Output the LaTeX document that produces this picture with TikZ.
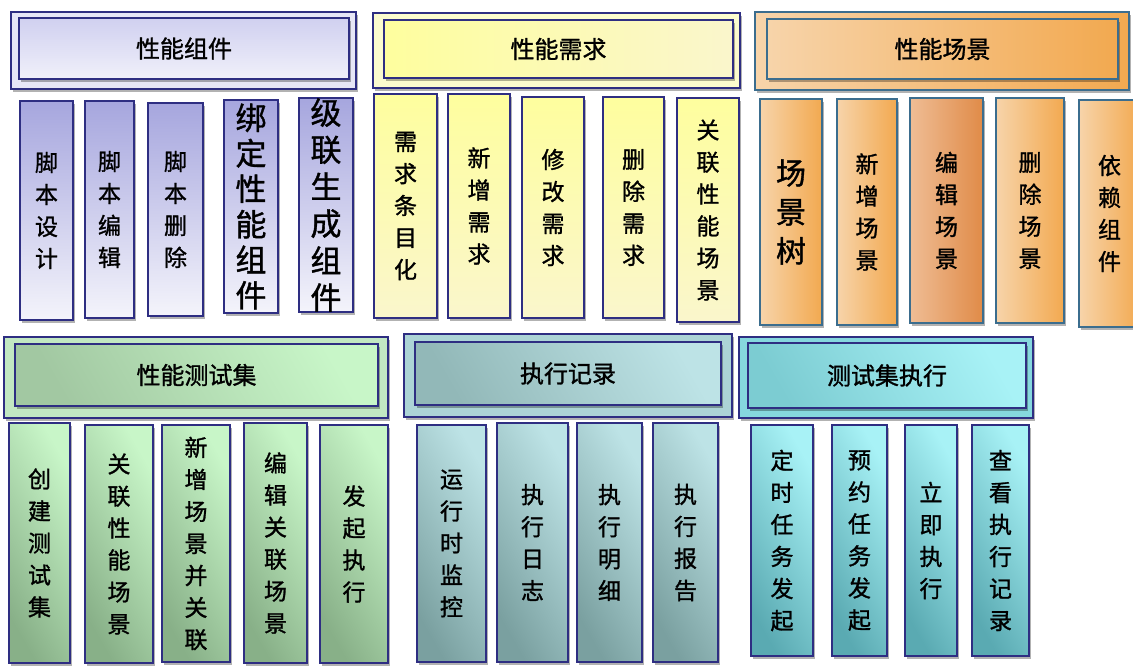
\documentclass[tikz,border=0pt]{standalone}
\usepackage{fontspec}
\newfontfamily\cjk[FakeBold=1.2]{Noto Sans CJK SC}
\usetikzlibrary{shadows}
\definecolor{navy}{HTML}{2E2E82}
\definecolor{steel}{HTML}{3B6D8E}
\definecolor{pOut}{HTML}{E6E6F6}
\definecolor{pTop}{HTML}{A6A6DE}
\definecolor{pBot}{HTML}{F4F4FB}
\definecolor{pHTop}{HTML}{D0D0F0}
\definecolor{pHBot}{HTML}{F0F0FA}
\definecolor{yOut}{HTML}{FBFBCE}
\definecolor{yTop}{HTML}{FEFE9E}
\definecolor{yBot}{HTML}{FAF6CC}
\definecolor{oL}{HTML}{F7D4AA}
\definecolor{oR}{HTML}{F2A950}
\definecolor{oDL}{HTML}{EFBD95}
\definecolor{oDR}{HTML}{E08B48}
\definecolor{gOut}{HTML}{C2E8C2}
\definecolor{gLight}{HTML}{C8F6C8}
\definecolor{gDark}{HTML}{88B088}
\definecolor{gMid}{HTML}{A2C8A2}
\definecolor{tOut}{HTML}{ACD4D6}
\definecolor{tLight}{HTML}{BDE3E6}
\definecolor{tDark}{HTML}{7AA0A0}
\definecolor{tMid}{HTML}{92B8B8}
\definecolor{cOut}{HTML}{86D8DE}
\definecolor{cLight}{HTML}{A8F2F6}
\definecolor{cDark}{HTML}{5AAAB2}
\definecolor{cMid}{HTML}{7CCCD2}
\tikzset{
  base/.style={inner sep=0pt, align=center, line width=1.3pt,
    drop shadow={shadow xshift=1.5pt, shadow yshift=-2.5pt, opacity=0.3, fill=black}},
  outerbox/.style={base, draw=navy},
  headbox/.style={base, draw=navy, font=\cjk\fontsize{24}{28}\selectfont},
  subbox/.style={base, draw=navy, font=\cjk\fontsize{23}{32}\selectfont},
  pHead/.style={headbox, top color=pHTop, bottom color=pHBot},
  pSub/.style={subbox, top color=pTop, bottom color=pBot},
  yHead/.style={headbox, left color=yTop, right color=yBot},
  ySub/.style={subbox, top color=yTop, bottom color=yBot},
  oOuter/.style={outerbox, draw=steel, line width=2pt, left color=oL, right color=oR},
  oHead/.style={headbox, draw=steel, line width=2pt, left color=oL, right color=oR},
  oSub/.style={subbox, draw=steel, line width=2.2pt, left color=oL, right color=oR},
  oSubD/.style={subbox, draw=steel, line width=2.2pt, left color=oDL, right color=oDR},
  gHead/.style={headbox, top color=gLight, bottom color=gMid, shading angle=-60},
  gSub/.style={subbox, top color=gLight, bottom color=gDark, shading angle=-60},
  tHead/.style={headbox, top color=tLight, bottom color=tMid, shading angle=-60},
  tSub/.style={subbox, top color=tLight, bottom color=tDark, shading angle=-60},
  cHead/.style={headbox, top color=cLight, bottom color=cMid, shading angle=-60},
  cSub/.style={subbox, top color=cLight, bottom color=cDark, shading angle=-60},
}
\newcommand\bx[7]{\node[#2, minimum width={(#5-#3)*1pt}, minimum height={(#6-#4)*1pt}] (#1) at ({(#3+#5)/2},{(#4+#6)/2}) {#7};}
\begin{document}
\begin{tikzpicture}[x=1pt,y=-1pt]
\useasboundingbox (0,0) rectangle (1133,665);
% ---------- 性能组件 ----------
\bx{pO}{outerbox, fill=pOut}{11}{12}{356}{89}{}
\bx{pH}{pHead}{19}{18}{349}{79}{性能组件}
\bx{p1}{pSub}{20}{101}{73}{320}{脚\\本\\设\\计}
\bx{p2}{pSub}{85}{101}{134}{318}{脚\\本\\编\\辑}
\bx{p3}{pSub}{148}{103}{203}{316}{脚\\本\\删\\除}
\bx{p4}{pSub, font=\cjk\fontsize{31}{35.5}\selectfont}{224}{100}{278}{313}{绑\\定\\性\\能\\组\\件}
\bx{p5}{pSub, font=\cjk\fontsize{31}{37}\selectfont}{299}{98}{353}{312}{级\\联\\生\\成\\组\\件}
% ---------- 性能需求 ----------
\bx{yO}{outerbox, fill=yOut}{373}{13}{740}{88}{}
\bx{yH}{yHead}{384}{20}{733}{78}{性能需求}
\bx{y1}{ySub}{374}{94}{437}{318}{需\\求\\条\\目\\化}
\bx{y2}{ySub}{448}{94}{510}{318}{新\\增\\需\\求}
\bx{y3}{ySub}{522}{97}{584}{318}{修\\改\\需\\求}
\bx{y4}{ySub}{603}{97}{664}{318}{删\\除\\需\\求}
\bx{y5}{ySub}{677}{98}{739}{322}{关\\联\\性\\能\\场\\景}
% ---------- 性能场景 ----------
\bx{oO}{oOuter}{755}{12}{1129}{90}{}
\bx{oH}{oHead}{767}{19}{1118}{79}{性能场景}
\bx{o1}{oSub, font=\cjk\fontsize{30}{39}\selectfont}{760}{99}{822}{325}{场\\景\\树}
\bx{o2}{oSub}{837}{99}{897}{325}{新\\增\\场\\景}
\bx{o3}{oSubD}{910}{98}{983}{323}{编\\辑\\场\\景}
\bx{o4}{oSub}{996}{98}{1064}{323}{删\\除\\场\\景}
\bx{o5}{oSub}{1079}{100}{1140}{327}{依\\赖\\组\\件}
% ---------- 性能测试集 ----------
\bx{gO}{outerbox, fill=gOut}{4}{337}{388}{418}{}
\bx{gH}{gHead}{15}{344}{378}{406}{性能测试集}
\bx{g1}{gSub}{9}{423}{70}{663}{创\\建\\测\\试\\集}
\bx{g2}{gSub}{85}{425}{153}{663}{关\\联\\性\\能\\场\\景}
\bx{g3}{gSub}{162}{425}{230}{662}{新\\增\\场\\景\\并\\关\\联}
\bx{g4}{gSub}{244}{423}{307}{663}{编\\辑\\关\\联\\场\\景}
\bx{g5}{gSub}{320}{425}{388}{663}{发\\起\\执\\行}
% ---------- 执行记录 ----------
\bx{tO}{outerbox, fill=tOut}{404}{334}{732}{417}{}
\bx{tH}{tHead}{415}{342}{721}{405}{执行记录}
\bx{t1}{tSub}{417}{425}{486}{662}{运\\行\\时\\监\\控}
\bx{t2}{tSub}{497}{423}{568}{662}{执\\行\\日\\志}
\bx{t3}{tSub}{577}{423}{642}{662}{执\\行\\明\\细}
\bx{t4}{tSub}{653}{423}{718}{662}{执\\行\\报\\告}
% ---------- 测试集执行 ----------
\bx{cO}{outerbox, fill=cOut}{739}{337}{1033}{418}{}
\bx{cH}{cHead}{748}{343}{1026}{408}{测试集执行}
\bx{c1}{cSub}{751}{425}{813}{656}{定\\时\\任\\务\\发\\起}
\bx{c2}{cSub}{832}{425}{887}{656}{预\\约\\任\\务\\发\\起}
\bx{c3}{cSub}{905}{425}{957}{656}{立\\即\\执\\行}
\bx{c4}{cSub}{972}{425}{1029}{656}{查\\看\\执\\行\\记\\录}
\end{tikzpicture}
\end{document}
